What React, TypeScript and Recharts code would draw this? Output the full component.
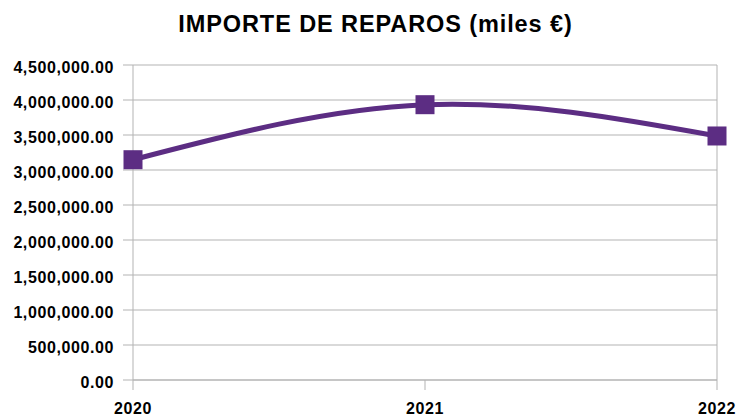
import React from "react";
import { LineChart, Line, XAxis, YAxis, CartesianGrid, ReferenceLine } from "recharts";

const categories = ["2020", "2021", "2022"];
const importeValues = [3147000, 3933000, 3486000];
const yTicks = [0, 500000, 1000000, 1500000, 2000000, 2500000, 3000000, 3500000, 4000000, 4500000];

const data = categories.map((c, i) => ({ year: c, importe: importeValues[i] }));

const fmt = (v: number) =>
  v.toLocaleString("en-US", { minimumFractionDigits: 2, maximumFractionDigits: 2 });

const SquareDot = (props: any) => {
  const { cx, cy } = props;
  if (cx == null || cy == null) return null;
  return <rect x={cx - 9.5} y={cy - 9.5} width={19} height={19} fill="#5c2d83" />;
};

const FONT = "'Liberation Sans', Arial, sans-serif";
const GRAY = "#b3b3b3";

export default function App() {
  return (
    <div style={{ position: "absolute", left: 0, top: 0, width: 739, height: 416, background: "#fff", fontFamily: FONT }}>
      <LineChart
        width={739}
        height={416}
        data={data}
        margin={{ top: 65, right: 22, bottom: 0, left: 0 }}
        style={{ position: "absolute", left: 0, top: 0 }}
      >
        <CartesianGrid vertical={false} stroke={GRAY} strokeDasharray="" />
        <ReferenceLine x="2022" stroke={GRAY} />
        <XAxis
          dataKey="year"
          stroke={GRAY}
          tickSize={10}
          tickMargin={12.5}
          height={36}
          interval={0}
          tick={{ fill: "#000", fontSize: 16, fontWeight: "bold", fontFamily: FONT, letterSpacing: 0.6 }}
        />
        <YAxis
          domain={[0, 4500000]}
          ticks={yTicks}
          tickFormatter={fmt}
          width={133}
          stroke={GRAY}
          tickSize={10}
          tickMargin={9}
          interval={0}
          tick={{ fill: "#000", fontSize: 16, fontWeight: "bold", fontFamily: FONT, letterSpacing: 0.6, dy: 2 }}
        />
        <Line
          type="natural"
          dataKey="importe"
          stroke="#5c2d83"
          strokeWidth={5}
          dot={<SquareDot />}
          activeDot={false}
          isAnimationActive={false}
        />
      </LineChart>
      <div
        style={{
          position: "absolute",
          left: 6,
          top: 8.5,
          width: 739,
          textAlign: "center",
          fontSize: 23.5,
          fontWeight: "bold",
          color: "#000",
          lineHeight: "30px",
          letterSpacing: 0.9,
          whiteSpace: "nowrap",
        }}
      >
        IMPORTE DE REPAROS (miles €)
      </div>
    </div>
  );
}
